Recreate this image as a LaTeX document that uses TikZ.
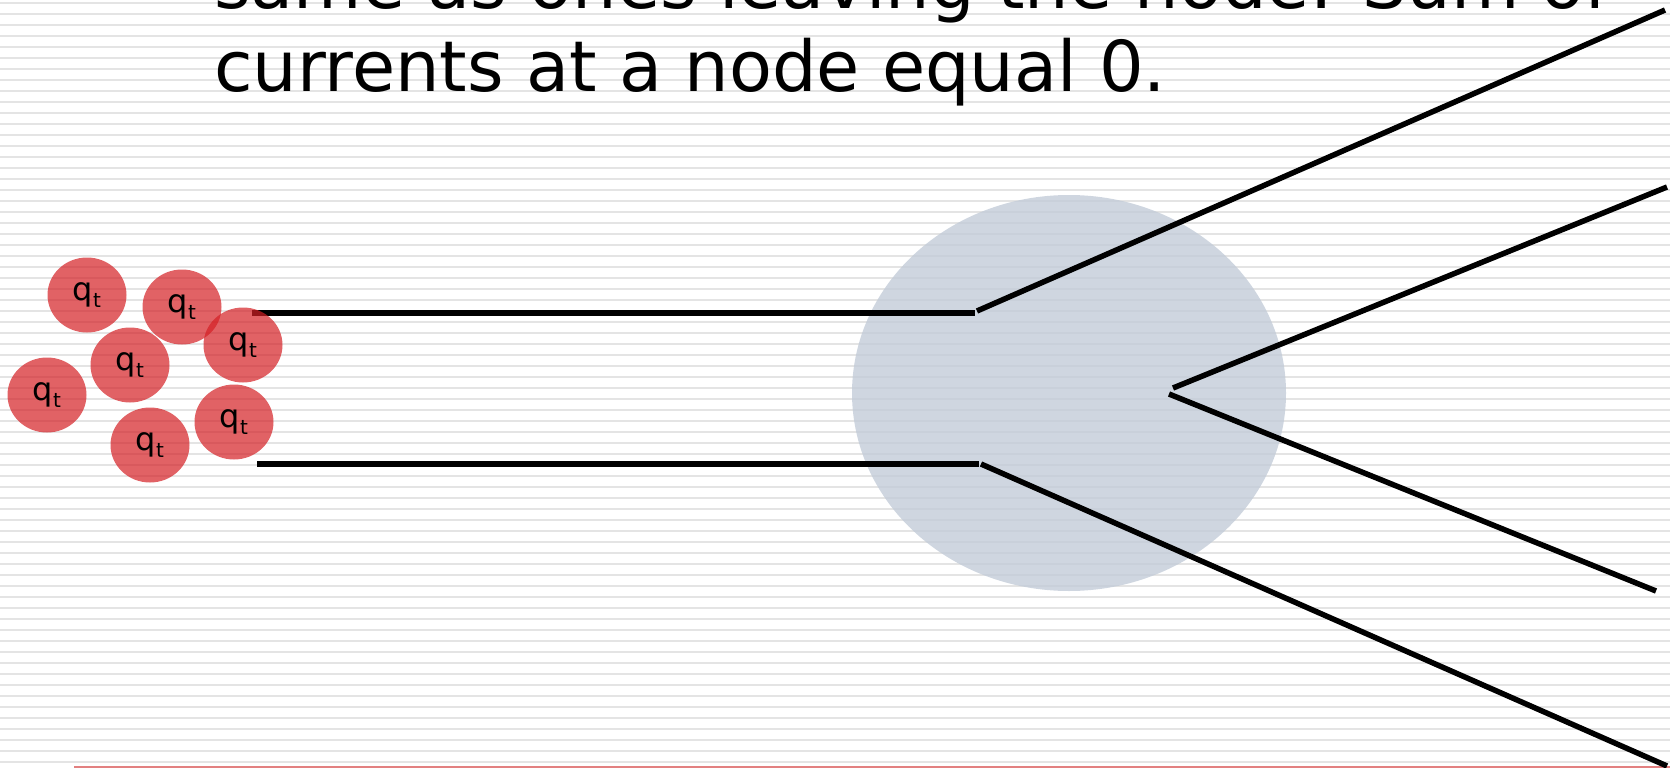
\documentclass[tikz,border=0pt]{standalone}
\usepackage{fontspec}
\setmainfont{DejaVu Sans}
\usetikzlibrary{shapes.geometric}

\definecolor{stripegray}{RGB}{228,228,228}
\definecolor{junctionblue}{RGB}{195,204,216}
\definecolor{chargered}{RGB}{212,31,36}
\definecolor{rulered}{RGB}{226,128,128}

\newcommand{\qlabel}{q\raisebox{-7pt}{\fontsize{20}{20}\selectfont t}}

\tikzset{
  charge/.style={ellipse,fill=chargered,fill opacity=0.7,text opacity=1,
    minimum width=79pt,minimum height=75pt,inner sep=0pt,
    font=\fontsize{32}{38}\selectfont},
  wire/.style={line width=5.5pt},
  bigtext/.style={anchor=base west,inner sep=0pt,font=\fontsize{70.2}{84}\selectfont},
}

\begin{document}
\begin{tikzpicture}[x=1pt,y=-1pt]

  \useasboundingbox (0,0) rectangle (1670,768);
  \clip (0,0) rectangle (1670,768);

  % striped background
  \foreach \k in {0,...,69}
    \draw[stripegray,line width=1.9pt] (0,3.3+11*\k) -- (1670,3.3+11*\k);
  \draw[rulered,line width=2.5pt] (74,767) -- (1670,767);

  \node[bigtext] (lineone) at (214,9) {same as ones leaving the node. Sum of};
  \node[bigtext] (linetwo) at (214,92) {currents at a node equal 0.};

  \node[ellipse,fill=junctionblue,fill opacity=0.8,minimum width=434pt,
    minimum height=396pt,inner sep=0pt] (junction) at (1069,393) {};

  % wire ends
  \coordinate (topin)    at (252,313);
  \coordinate (topjoint) at (975,313);
  \coordinate (topkink)  at (977,311);
  \coordinate (topout)   at (1665,10);
  \coordinate (botin)    at (257,464);
  \coordinate (botjoint) at (979,464);
  \coordinate (botkink)  at (981,464);
  \coordinate (botout)   at (1667,766);
  \coordinate (vupper)   at (1173,388);
  \coordinate (vupout)   at (1667,187);
  \coordinate (vlower)   at (1169,394);
  \coordinate (vlowout)  at (1656,591);

  \draw[wire] (topin) -- (topjoint);
  \draw[wire] (topkink) -- (topout);
  \draw[wire] (botin) -- (botjoint);
  \draw[wire] (botkink) -- (botout);
  \draw[wire] (vupper) -- (vupout);
  \draw[wire] (vlower) -- (vlowout);

  % charges
  \foreach \name/\pos in {qa/{(87,295)},qb/{(182,307)},qc/{(243,345)},
      qd/{(130,365)},qe/{(47,395)},qf/{(150,445)},qg/{(234,422)}}
    \node[charge] (\name) at \pos {\qlabel};

\end{tikzpicture}
\end{document}
